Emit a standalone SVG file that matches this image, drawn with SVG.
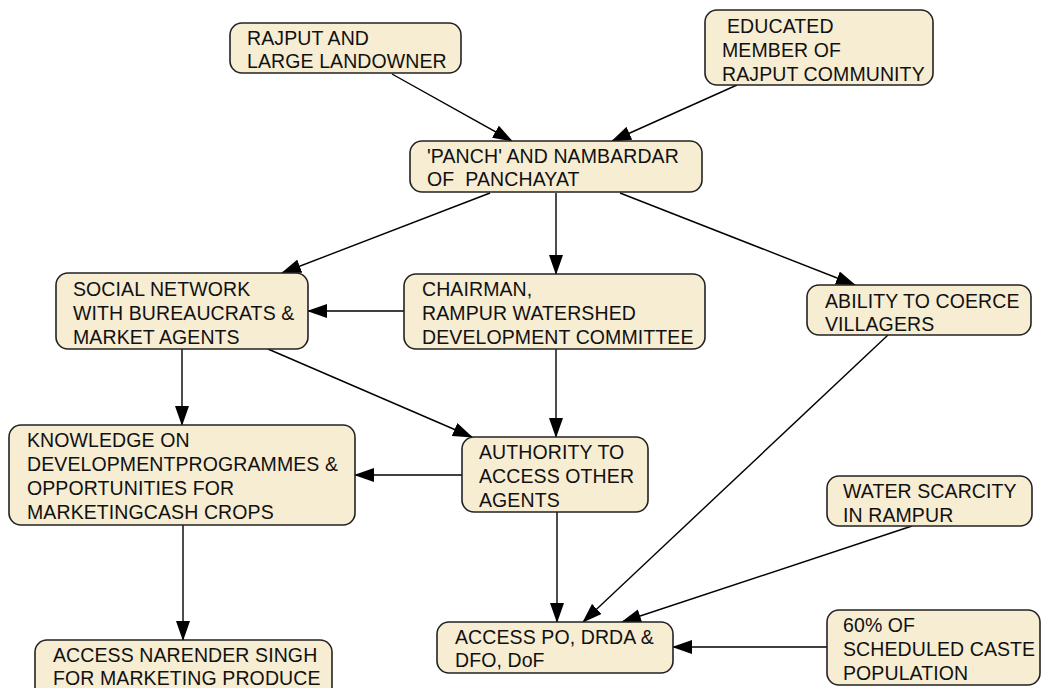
<svg xmlns="http://www.w3.org/2000/svg" width="1041" height="688" viewBox="0 0 1041 688">
<defs>
<marker id="ah" markerUnits="userSpaceOnUse" markerWidth="20" markerHeight="14" viewBox="0 0 20 14" refX="19" refY="7" orient="auto">
<path d="M0,0 L20,7 L0,14 Z" fill="#000"/>
</marker>
</defs>
<style>
.box{fill:#F7EDD3;stroke:#222;stroke-width:1.6}
.t{font-family:"Liberation Sans",Arial,sans-serif;font-size:19.5px;fill:#111;letter-spacing:0.1px}
.c line{stroke:#000;stroke-width:1.4;marker-end:url(#ah)}
</style>
<rect width="1041" height="688" fill="#fff"/>
<g class="c" id="connectors">
<line x1="392" y1="74" x2="512" y2="141"/>
<line x1="737" y1="85" x2="612" y2="141"/>
<line x1="490" y1="193" x2="282" y2="273"/>
<line x1="556" y1="193" x2="556" y2="274"/>
<line x1="620" y1="193" x2="855" y2="285"/>
<line x1="404" y1="311" x2="308" y2="311"/>
<line x1="182" y1="349" x2="182" y2="425"/>
<line x1="268" y1="349" x2="472" y2="437"/>
<line x1="556" y1="349" x2="556" y2="437"/>
<line x1="462" y1="475" x2="355" y2="475"/>
<line x1="183" y1="525" x2="183" y2="640"/>
<line x1="557" y1="512" x2="557" y2="622"/>
<line x1="888" y1="335" x2="583" y2="622"/>
<line x1="912" y1="526" x2="622" y2="622"/>
<line x1="827" y1="647" x2="673" y2="647"/>
</g>
<g id="n1"><rect class="box" x="230" y="23" width="231" height="50" rx="12"/>
<text class="t"><tspan x="247" y="45">RAJPUT AND</tspan><tspan x="247" y="68">LARGE LANDOWNER</tspan></text></g>
<g id="n2"><rect class="box" x="705" y="10" width="228" height="75" rx="12"/>
<text class="t"><tspan x="727" y="33">EDUCATED</tspan><tspan x="722" y="57">MEMBER OF</tspan><tspan x="722" y="81">RAJPUT COMMUNITY</tspan></text></g>
<g id="n3"><rect class="box" x="410" y="141" width="292" height="51" rx="12"/>
<text class="t"><tspan x="427" y="163">'PANCH' AND NAMBARDAR</tspan><tspan x="427" y="186" xml:space="preserve">OF  PANCHAYAT</tspan></text></g>
<g id="n4"><rect class="box" x="56" y="273" width="252" height="76" rx="12"/>
<text class="t"><tspan x="73" y="296">SOCIAL NETWORK</tspan><tspan x="73" y="320">WITH BUREAUCRATS &amp;</tspan><tspan x="73" y="344">MARKET AGENTS</tspan></text></g>
<g id="n5"><rect class="box" x="404" y="274" width="301" height="75" rx="12"/>
<text class="t"><tspan x="422" y="296">CHAIRMAN,</tspan><tspan x="422" y="320">RAMPUR WATERSHED</tspan><tspan x="422" y="344">DEVELOPMENT COMMITTEE</tspan></text></g>
<g id="n6"><rect class="box" x="807" y="285" width="224" height="50" rx="12"/>
<text class="t"><tspan x="825" y="308">ABILITY TO COERCE</tspan><tspan x="825" y="331">VILLAGERS</tspan></text></g>
<g id="n7"><rect class="box" x="9" y="425" width="346" height="100" rx="12"/>
<text class="t"><tspan x="27" y="447">KNOWLEDGE ON</tspan><tspan x="27" y="471">DEVELOPMENTPROGRAMMES &amp;</tspan><tspan x="27" y="495">OPPORTUNITIES FOR</tspan><tspan x="27" y="519">MARKETINGCASH CROPS</tspan></text></g>
<g id="n8"><rect class="box" x="462" y="437" width="186" height="75" rx="12"/>
<text class="t"><tspan x="479" y="459">AUTHORITY TO</tspan><tspan x="479" y="483">ACCESS OTHER</tspan><tspan x="479" y="507">AGENTS</tspan></text></g>
<g id="n9"><rect class="box" x="827" y="476" width="205" height="50" rx="12"/>
<text class="t"><tspan x="843" y="498">WATER SCARCITY</tspan><tspan x="843" y="522">IN RAMPUR</tspan></text></g>
<g id="n10"><rect class="box" x="827" y="610" width="213" height="75" rx="12"/>
<text class="t"><tspan x="843" y="632">60% OF</tspan><tspan x="843" y="656">SCHEDULED CASTE</tspan><tspan x="843" y="680">POPULATION</tspan></text></g>
<g id="n11"><rect class="box" x="437" y="622" width="236" height="51" rx="12"/>
<text class="t"><tspan x="455" y="644">ACCESS PO, DRDA &amp;</tspan><tspan x="455" y="667">DFO, DoF</tspan></text></g>
<g id="n12"><rect class="box" x="35" y="640" width="297" height="60" rx="12"/>
<text class="t"><tspan x="53" y="662">ACCESS NARENDER SINGH</tspan><tspan x="53" y="685">FOR MARKETING PRODUCE</tspan></text></g>
</svg>
